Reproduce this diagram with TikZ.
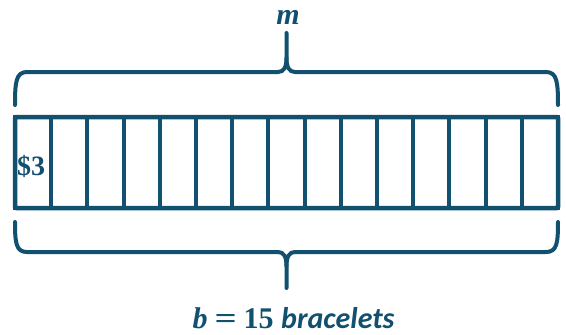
\documentclass[tikz,border=0pt]{standalone}
\usepackage{fontspec}
\setmainfont{Liberation Serif}
\newfontfamily\calib{Carlito}
\usetikzlibrary{positioning,calc}
\definecolor{bar}{HTML}{11506F}
\tikzset{
  cell/.style={draw=bar,line width=4pt,minimum width=36.2pt,minimum height=91pt,inner sep=0pt,outer sep=0pt},
  frame/.style={draw=bar,line width=4.5pt,rounded corners=1.5pt},
  brc/.style={draw=bar,line width=4pt,line cap=round,line join=round},
  lbl/.style={text=bar,inner sep=0pt},
}
\begin{document}
\begin{tikzpicture}[x=1pt,y=-1pt]
\useasboundingbox (0,0) rectangle (566,335);
% fifteen bracelets, one cell each
\foreach \i in {1,...,15}{
  \node[cell] (c\i) at ({15+36.2*(\i-0.5)},162.5) {};
}
\draw[frame] (c1.north west) rectangle (c15.south east);
\node[lbl,anchor=west,font=\fontsize{28}{28}\selectfont\bfseries] (price) at ([xshift=2pt,yshift=-4pt]c1.west) {\$3};
% brace over the bar
\coordinate (ttip) at (c8.north |- 0,33);
\draw[brc] (15,105) .. controls (15,82) and (16,72) .. (27,72) -- (278,72)
  .. controls (284,72) and (286.5,67) .. (286.5,58) -- (ttip);
\draw[brc] (286.5,58) .. controls (286.5,67) and (289,72) .. (295,72) -- (546,72)
  .. controls (557,72) and (558,82) .. (558,105);
\node[lbl,font=\fontsize{30}{30}\selectfont\bfseries\itshape] (m) at (288,17) {m};
% brace under the bar
\coordinate (btip) at (c8.south |- 0,288);
\draw[brc] (15,222) .. controls (15,243) and (16,252) .. (27,252) -- (278,252)
  .. controls (284,252) and (286.5,257) .. (286.5,266) -- (btip);
\draw[brc] (286.5,266) .. controls (286.5,257) and (289,252) .. (295,252) -- (546,252)
  .. controls (557,252) and (558,243) .. (558,222);
\node[lbl,font=\fontsize{30}{30}\selectfont\bfseries] (total) at (293.5,318)
  {\textit{b}\hspace{7pt}\scalebox{1.3}[1]{=}\hspace{7pt}15 {\calib\itshape bracelets}};
\end{tikzpicture}
\end{document}
